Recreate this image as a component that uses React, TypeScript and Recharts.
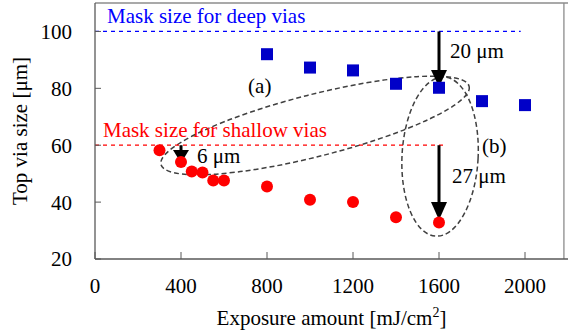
import React from 'react';
import { ScatterChart, Scatter, XAxis, YAxis, ReferenceLine, ReferenceArea, ReferenceDot, Label } from 'recharts';

const FONT = '"Liberation Serif", "Times New Roman", serif';

// measured values
const deepExposure = [800, 1000, 1200, 1400, 1600, 1800, 2000];
const deepSize = [92, 87.3, 86.3, 81.6, 80.2, 75.5, 74.1];
const shallowExposure = [300, 400, 450, 500, 550, 600, 800, 1000, 1200, 1400, 1600];
const shallowSize = [58.2, 54.1, 50.8, 50.4, 47.6, 47.6, 45.5, 40.8, 40, 34.7, 32.8];

const xTicks = [0, 400, 800, 1200, 1600, 2000];
const yTicks = [20, 40, 60, 80, 100];

const maskDeep = 100;
const maskShallow = 60;

// annotations (data coords)
const notes = [
  { text: 'Mask size for deep vias', x: 56, y: 102.9, color: '#0000ff' },
  { text: 'Mask size for shallow vias', x: 37, y: 62.9, color: '#ff0000' },
  { text: '6 \u03bcm', x: 474, y: 53.75, color: '#000' },
  { text: '20 \u03bcm', x: 1651, y: 90.7, color: '#000' },
  { text: '27 \u03bcm', x: 1660, y: 46.7, color: '#000' },
  { text: '(a)', x: 712, y: 78.4, color: '#000' },
  { text: '(b)', x: 1800, y: 57.3, color: '#000' },
];
const arrows = [
  { x: 1600, from: 100, to: 80.5, head: 17 },
  { x: 1600, from: 60, to: 33.7, head: 18 },
  { x: 400, from: 60, to: 53.75, head: 13 },
];

const deepData = deepExposure.map((x, i) => ({ x, y: deepSize[i] }));
const shallowData = shallowExposure.map((x, i) => ({ x, y: shallowSize[i] }));

const Square = (p: any) => <rect x={p.cx - 6} y={p.cy - 6} width={12} height={12} fill="#0000c8" />;
const Dot = (p: any) => <circle cx={p.cx} cy={p.cy} r={6} fill="#ff0000" />;

const Arrow = (head: number) => (p: any) => (
  <g>
    <line x1={p.x1} y1={p.y1} x2={p.x2} y2={p.y2 - head + 2} stroke="#000" strokeWidth={3} />
    <polygon points={`${p.x2 - 8},${p.y2 - head} ${p.x2 + 8},${p.y2 - head} ${p.x2},${p.y2}`} fill="#000" />
  </g>
);

// tilted ellipse spanning the diagonal of the area (lower-left to upper-right)
const EllipseA = (p: any) => {
  const cx = p.x + p.width / 2;
  const cy = p.y + p.height / 2;
  const rx = Math.hypot(p.width, p.height) / 2;
  const ang = (Math.atan2(-p.height, p.width) * 180) / Math.PI;
  return (
    <ellipse cx={cx} cy={cy} rx={rx} ry={31} transform={`rotate(${ang} ${cx} ${cy})`}
      fill="none" stroke="#404040" strokeWidth={1.5} strokeDasharray="5 3" />
  );
};
const EllipseB = (p: any) => {
  const cx = p.x + p.width / 2;
  const cy = p.y + p.height / 2;
  return (
    <ellipse cx={cx} cy={cy} rx={p.width / 2} ry={p.height / 2} transform={`rotate(3 ${cx} ${cy})`}
      fill="none" stroke="#404040" strokeWidth={1.5} strokeDasharray="5 3" />
  );
};

const noteShape = (n: any) => (p: any) => (
  <text x={p.cx} y={p.cy} fill={n.color} fontSize={21} fontFamily={FONT}>{n.text}</text>
);

const YTitle = (props: any) => {
  const vb = props.viewBox;
  const cy = vb.y + vb.height / 2;
  return (
    <text x={27} y={cy} transform={`rotate(-90 27 ${cy})`} textAnchor="middle" fontSize={21} fontFamily={FONT} fill="#000">
      {'Top via size [\u03bcm]'}
    </text>
  );
};
const XTitle = (props: any) => {
  const vb = props.viewBox;
  const cx = vb.x + vb.width / 2;
  return (
    <text x={cx} y={vb.y + 66} textAnchor="middle" fontSize={21} fontFamily={FONT} fill="#000">
      Exposure amount [mJ/cm<tspan dy={-8} fontSize={14}>2</tspan><tspan dy={8}>]</tspan>
    </text>
  );
};

export default function App() {
  const tick = { fontSize: 21, fontFamily: FONT, fill: '#000' };
  return (
    <div style={{ position: 'absolute', left: 0, top: 0, width: 568, height: 333, background: '#fff' }}>
      <ScatterChart width={568} height={333} margin={{ top: 3, right: 0, bottom: 0, left: 0 }}>
        <XAxis type="number" dataKey="x" domain={[0, 2200]} ticks={xTicks} interval={0}
          height={74} tickSize={-7} tickMargin={26} tick={tick}
          axisLine={{ stroke: '#595959', strokeWidth: 1.3 }} tickLine={{ stroke: '#595959' }}>
          <Label content={XTitle} />
        </XAxis>
        <YAxis type="number" dataKey="y" domain={[20, 110]} ticks={yTicks} interval={0}
          width={95} tickSize={-6} tickMargin={29} tick={tick}
          axisLine={{ stroke: '#595959', strokeWidth: 1.3 }} tickLine={{ stroke: '#595959' }}>
          <Label content={YTitle} />
        </YAxis>
        <ReferenceLine y={110} stroke="#8c8c8c" strokeWidth={1.3} />
        <ReferenceLine x={2181} stroke="#8c8c8c" strokeWidth={1.3} />
        <ReferenceLine segment={[{ x: 0, y: maskDeep }, { x: 1980, y: maskDeep }]} stroke="#0000ff" strokeWidth={1.3} strokeDasharray="4 4" />
        <ReferenceLine segment={[{ x: 0, y: maskShallow }, { x: 1620, y: maskShallow }]} stroke="#ff0000" strokeWidth={1.3} strokeDasharray="4 4" />
        <ReferenceArea x1={307} x2={1740} y1={53.2} y2={80.7} shape={EllipseA} />
        <ReferenceArea x1={1428} x2={1782} y1={28} y2={84} shape={EllipseB} />
        <Scatter data={deepData} shape={Square} isAnimationActive={false} />
        <Scatter data={shallowData} shape={Dot} isAnimationActive={false} />
        {arrows.map((a, i) => (
          <ReferenceLine key={'a' + i} segment={[{ x: a.x, y: a.from }, { x: a.x, y: a.to }]} shape={Arrow(a.head)} />
        ))}
        {notes.map((n, i) => (
          <ReferenceDot key={'n' + i} x={n.x} y={n.y} r={0} shape={noteShape(n)} />
        ))}
      </ScatterChart>
    </div>
  );
}
